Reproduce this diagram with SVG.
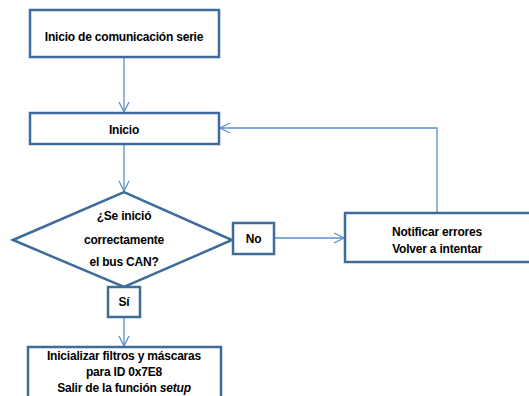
<svg xmlns="http://www.w3.org/2000/svg" width="529" height="396" viewBox="0 0 529 396">
<style>
.n{fill:#fff;stroke:#3f6b9b;stroke-width:2.5}
.t{font-family:"Liberation Sans",Arial,sans-serif;font-weight:bold;font-size:12px;letter-spacing:-0.2px;fill:#000;text-anchor:middle}
.c{fill:none;stroke:#5b8fc9;stroke-width:1.3}
</style>
<defs>
<marker id="a" viewBox="0 0 12 12" refX="11" refY="6" markerWidth="12" markerHeight="12" markerUnits="userSpaceOnUse" orient="auto">
<path d="M1,1 L11,6 L1,11" fill="none" stroke="#5b8fc9" stroke-width="1.3"/>
</marker>
</defs>
<rect width="529" height="396" fill="#fff"/>
<g id="connectors">
<path class="c" d="M124,57 V112" marker-end="url(#a)"/>
<path class="c" d="M124,144 V191" marker-end="url(#a)"/>
<path class="c" d="M124,317 V346" marker-end="url(#a)"/>
<path class="c" d="M274,238 H344" marker-end="url(#a)"/>
<path class="c" d="M437,213 V128 H220" marker-end="url(#a)"/>
</g>
<g id="n1"><rect class="n" x="30" y="10" width="189" height="47"/><text class="t" x="124" y="41">Inicio de comunicación serie</text></g>
<g id="n2"><rect class="n" x="30" y="113" width="189" height="31"/><text class="t" x="124" y="134">Inicio</text></g>
<g id="n3"><polygon class="n" points="13,240 124,192 232,240 124,287"/><text class="t" x="124" y="220">¿Se inició</text><text class="t" x="124" y="244">correctamente</text><text class="t" x="124" y="266">el bus CAN?</text></g>
<g id="n4"><rect class="n" x="233" y="223" width="41" height="31"/><text class="t" x="253.5" y="243">No</text></g>
<g id="n5"><rect class="n" x="108" y="287" width="32" height="30"/><text class="t" x="124" y="306">Sí</text></g>
<g id="n6"><rect class="n" x="345" y="213" width="186" height="49"/><text class="t" x="437" y="236">Notificar errores</text><text class="t" x="437" y="253">Volver a intentar</text></g>
<g id="n7"><rect class="n" x="28" y="347" width="193" height="55"/><text class="t" x="124" y="360">Inicializar filtros y máscaras</text><text class="t" x="124" y="376">para ID 0x7E8</text><text class="t" x="124" y="392">Salir de la función <tspan font-style="italic">setup</tspan></text></g>
</svg>
